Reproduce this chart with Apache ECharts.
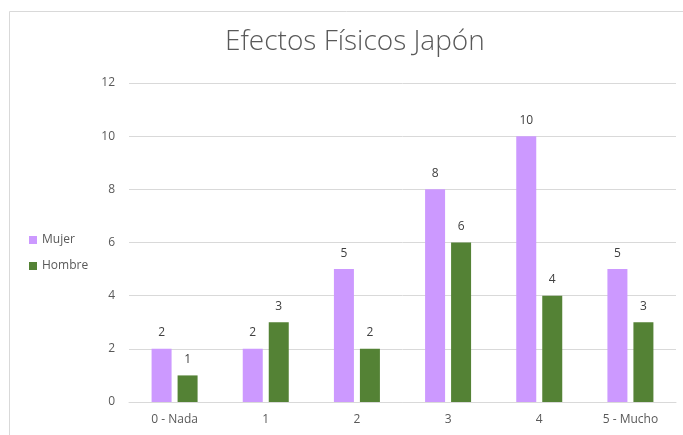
<!DOCTYPE html>
<html>
<head>
<meta charset="utf-8">
<script src="https://cdn.jsdelivr.net/npm/echarts@6/dist/echarts.min.js"></script>
<style>
html,body{margin:0;padding:0;background:#fff;}
#c{width:683px;height:435px;}
</style>
</head>
<body>
<div id="c"></div>
<script>
var categories = ['0 - Nada', '1', '2', '3', '4', '5 - Mucho'];
var mujer = [2, 2, 5, 8, 10, 5];
var hombre = [1, 3, 2, 6, 4, 3];
var seriesNames = ['Mujer', 'Hombre'];

var chart = echarts.init(document.getElementById('c'), null, {renderer: 'canvas'});
var font = "'Open Sans', 'Liberation Sans', sans-serif";
var labelStyle = {show: true, position: 'top', distance: 10, color: '#404040', fontSize: 12, fontFamily: font};
chart.setOption({
  animation: false,
  graphic: [{
    type: 'rect', left: 7, top: 9, shape: {width: 690, height: 440},
    style: {fill: 'none', stroke: '#d9d9d9', lineWidth: 1}, z: -1
  }],
  title: {
    text: 'Efectos Físicos Japón', left: 220, top: 23,
    textStyle: {fontFamily: font, fontWeight: 300, fontSize: 28, color: '#595959'}
  },
  legend: {
    orient: 'vertical', left: 24, top: 229, itemWidth: 8, itemHeight: 8, itemGap: 14,
    icon: 'rect',
    textStyle: {fontFamily: font, fontSize: 12, color: '#595959'},
    data: seriesNames
  },
  grid: {left: 129, right: 7, top: 83, bottom: 33},
  xAxis: {
    type: 'category', data: categories,
    axisLine: {lineStyle: {color: '#d9d9d9'}},
    axisTick: {show: false},
    axisLabel: {color: '#595959', fontSize: 12, fontFamily: font, margin: 12}
  },
  yAxis: {
    type: 'value', min: 0, max: 12, interval: 2,
    axisLine: {show: false}, axisTick: {show: false},
    splitLine: {lineStyle: {color: '#d9d9d9'}},
    axisLabel: {color: '#595959', fontSize: 12, fontFamily: font, margin: 14}
  },
  series: [
    {name: seriesNames[0], type: 'bar', data: mujer, barWidth: 20, barGap: '30%',
     itemStyle: {color: '#CC99FF'}, label: labelStyle},
    {name: seriesNames[1], type: 'bar', data: hombre, barWidth: 20,
     itemStyle: {color: '#548235'}, label: labelStyle}
  ]
});
</script>
</body>
</html>
